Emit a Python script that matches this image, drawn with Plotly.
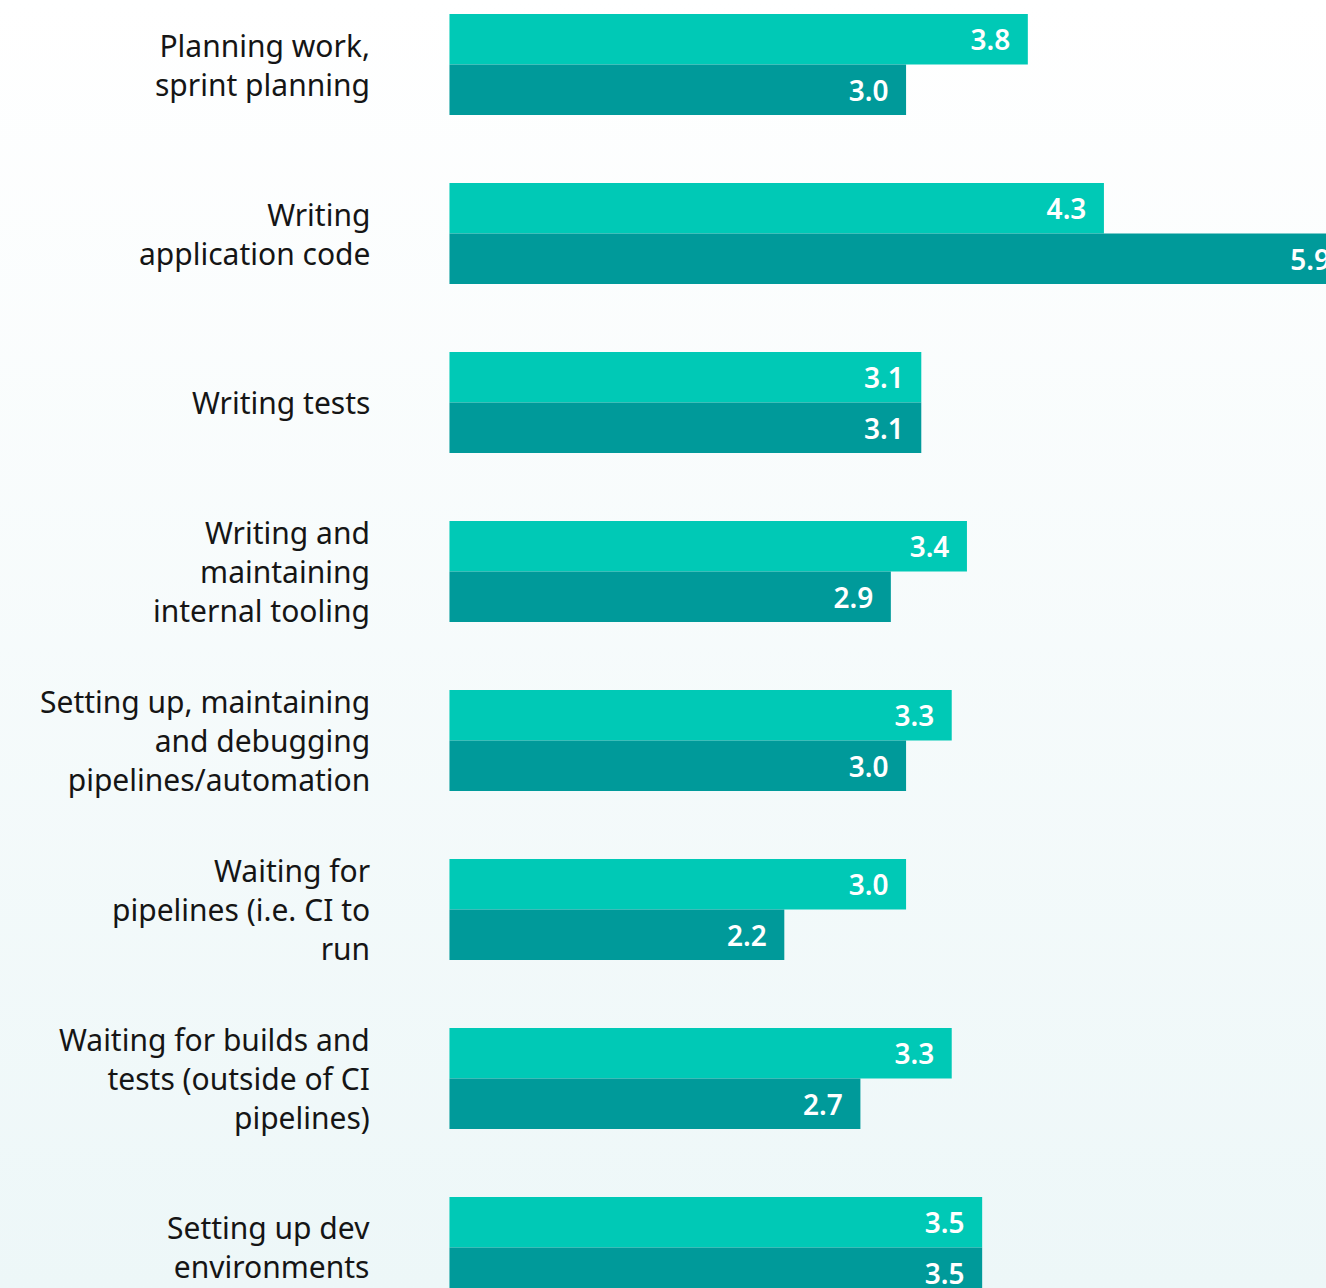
import plotly.graph_objects as go

# Activities, top to bottom
categories = [
    "Planning work,<br>sprint planning",
    "Writing<br>application code",
    "Writing tests",
    "Writing and<br>maintaining<br>internal tooling",
    "Setting up, maintaining<br>and debugging<br>pipelines/automation",
    "Waiting for<br>pipelines (i.e. CI to<br>run",
    "Waiting for builds and<br>tests (outside of CI<br>pipelines)",
    "Setting up dev<br>environments",
]
series_a = [3.8, 4.3, 3.1, 3.4, 3.3, 3.0, 3.3, 3.5]
series_b = [3.0, 5.9, 3.1, 2.9, 3.0, 2.2, 2.7, 3.5]

LIGHT = "#00C9B6"
DARK = "#009A9A"
LABEL_FONT = "Noto Sans"
PAD = "\u00a0\u00a0"

fig = go.Figure()

# soft vertical background wash on a full-page base subplot
fig.add_trace(go.Scatter(
    x=[0, 1, 1, 0, 0], y=[0, 0, 1, 1, 0],
    mode="none", fill="toself",
    fillgradient=dict(type="vertical",
                      colorscale=[[0, "#EDF7F8"], [1, "#FFFFFF"]]),
    hoverinfo="skip", showlegend=False,
    xaxis="x", yaxis="y",
))

for name, vals, color in [("Set A", series_a, LIGHT), ("Set B", series_b, DARK)]:
    fig.add_trace(go.Bar(
        name=name,
        y=categories, x=vals, orientation="h",
        marker=dict(color=color, line=dict(width=0)),
        text=[f"{v:.1f}{PAD}" for v in vals],
        textposition="inside", insidetextanchor="end",
        textfont=dict(family=LABEL_FONT, size=28, color="white", weight=600),
        xaxis="x2", yaxis="y2",
        showlegend=False,
    ))

# category labels to the left of the bars
for cat in categories:
    fig.add_annotation(
        x=0, y=cat, xref="x2", yref="y2",
        text=cat, showarrow=False,
        xanchor="right", yanchor="middle", align="right",
        xshift=-77,
        font=dict(family=LABEL_FONT, size=30, color="#151515"),
    )

fig.update_layout(
    width=1326, height=1288,
    margin=dict(l=0, r=0, t=0, b=0),
    paper_bgcolor="white", plot_bgcolor="rgba(0,0,0,0)",
    barmode="group", bargap=0.402, bargroupgap=0,
    xaxis=dict(domain=[0, 1], range=[0, 1], visible=False, fixedrange=True),
    yaxis=dict(domain=[0, 1], range=[0, 1], visible=False, fixedrange=True),
    xaxis2=dict(overlaying="x", range=[-2.953, 5.759], visible=False),
    yaxis2=dict(overlaying="y", type="category",
                categoryorder="array", categoryarray=categories,
                range=[7.240, -0.382], visible=False),
)

fig.write_html("out.html")
